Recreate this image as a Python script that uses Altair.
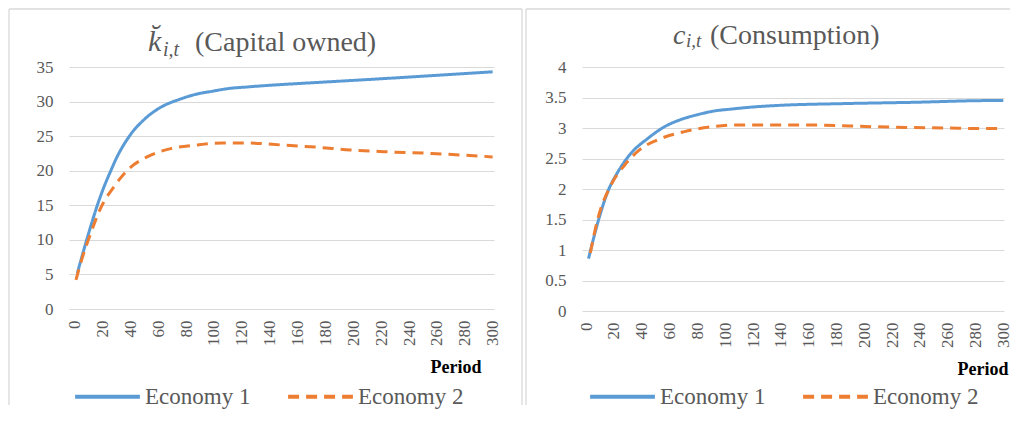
import altair as alt
import pandas as pd

SERIES = ["Economy 1", "Economy 2"]
COLORS = ["#5B9BD5", "#ED7D31"]
DASHES = [[1, 0], [11, 7]]

# Capital owned
cap_t1 = [2, 9, 17, 21, 26, 30, 39, 51, 63, 75, 87, 99, 111, 123, 136, 160, 186, 220, 260, 300]
cap_v1 = [5.2, 10.2, 15.4, 17.6, 20.0, 21.8, 24.9, 27.6, 29.3, 30.3, 31.05, 31.5, 31.9, 32.1, 32.3, 32.6, 32.9, 33.3, 33.8, 34.3]
cap_t2 = [1, 5.5, 11.5, 18.7, 28, 38, 52, 69, 87, 106, 125, 150, 174, 198, 222, 256, 292, 300]
cap_v2 = [4.2, 7.4, 10.9, 14.6, 17.6, 20.1, 22.0, 23.2, 23.7, 24.0, 24.0, 23.7, 23.4, 23.0, 22.75, 22.5, 22.1, 22.0]

# Consumption
con_t1 = [1.7, 8, 15.6, 22.8, 32.4, 44.4, 56.3, 68.3, 80.4, 92.3, 104.3, 117.5, 138, 185, 233, 293, 300]
con_v1 = [0.86, 1.42, 1.96, 2.28, 2.59, 2.83, 3.02, 3.14, 3.22, 3.28, 3.31, 3.34, 3.37, 3.40, 3.42, 3.45, 3.45]
con_t2 = [3, 8, 18, 27.6, 38.3, 54, 70.7, 90, 109, 128, 160, 209, 257, 293, 300]
con_v2 = [0.95, 1.48, 2.07, 2.39, 2.64, 2.83, 2.94, 3.02, 3.05, 3.05, 3.05, 3.02, 3.0, 2.99, 2.99]

x_ticks = list(range(0, 301, 20))
cap_ticks = [0, 5, 10, 15, 20, 25, 30, 35]
con_ticks = [0, 0.5, 1, 1.5, 2, 2.5, 3, 3.5, 4]

FONT = "Liberation Serif"
GRAY = "#595959"
GRID = "#d9d9d9"


def long_df(t1, v1, t2, v2):
    rows = [{"period": t, "value": v, "series": SERIES[0]} for t, v in zip(t1, v1)]
    rows += [{"period": t, "value": v, "series": SERIES[1]} for t, v in zip(t2, v2)]
    return pd.DataFrame(rows)


one = pd.DataFrame({"k": [0]})


def panel(df, xdom, ydom, yticks, width, height, title_parts, border, legend_x, period_x):
    legend = alt.Legend(
        orient="none", legendX=legend_x, legendY=295, direction="horizontal",
        title=None, symbolType="stroke", symbolSize=4200, symbolStrokeWidth=4,
        labelFont=FONT, labelFontSize=23, labelColor=GRAY, labelOffset=3,
        columnPadding=29, padding=0,
    )
    lines = alt.Chart(df).mark_line(strokeWidth=3, interpolate="monotone").encode(
        x=alt.X("period:Q",
                scale=alt.Scale(domain=xdom, nice=False, zero=False),
                axis=alt.Axis(values=x_ticks, format="d", labelAngle=-90, labelPadding=11,
                              labelFont=FONT, labelFontSize=17, labelColor=GRAY,
                              grid=False, ticks=False, domain=False,
                              title="Period", titleFont=FONT, titleFontSize=18,
                              titleFontWeight="bold", titleColor="black",
                              titleAlign="right", titleBaseline="alphabetic",
                              titleAngle=0, titleX=period_x, titleY=63)),
        y=alt.Y("value:Q",
                scale=alt.Scale(domain=ydom, nice=False),
                axis=alt.Axis(values=yticks, format="~g", labelPadding=16,
                              labelFont=FONT, labelFontSize=17, labelColor=GRAY,
                              grid=True, gridColor=GRID, gridWidth=1,
                              ticks=False, domain=False, title=None)),
        color=alt.Color("series:N", scale=alt.Scale(domain=SERIES, range=COLORS), legend=legend),
        strokeDash=alt.StrokeDash("series:N", scale=alt.Scale(domain=SERIES, range=DASHES), legend=legend),
    ).properties(width=width, height=height)

    layers = []
    for (bx, by, bx2, by2) in border:
        enc = {"x": alt.value(bx), "y": alt.value(by)}
        if bx2 is not None:
            enc["x2"] = alt.value(bx2)
        if by2 is not None:
            enc["y2"] = alt.value(by2)
        layers.append(alt.Chart(one).mark_rule(color=GRID, strokeWidth=1.3).encode(**enc))

    for (txt, tx, ty, size, style) in title_parts:
        layers.append(
            alt.Chart(one).mark_text(
                font=FONT, fontSize=size, fontStyle=style, color=GRAY,
                align="left", baseline="alphabetic",
            ).encode(x=alt.value(tx), y=alt.value(ty), text=alt.value(txt))
        )
    return alt.layer(lines, *layers)


left = panel(
    long_df(cap_t1, cap_v1, cap_t2, cap_v2),
    [-4, 301], [0, 35], cap_ticks, 425, 242,
    [("k\u0306", 79, -16, 30, "italic"),
     ("i,t", 94, -11, 20, "italic"),
     ("(Capital owned)", 126, -16, 28, "normal")],
    [(-60, -58, 453, None), (-60, -58, None, 338), (453, -58, None, 338)],
    4, 412,
)

right = panel(
    long_df(con_t1, con_v1, con_t2, con_v2),
    [-3, 300.5], [0, 4], con_ticks, 422, 244,
    [("c", 91, -23, 28, "italic"),
     ("i,t", 104, -20, 19, "italic"),
     ("(Consumption)", 128, -23, 28, "normal")],
    [(-56, -58, 428, None), (-56, -58, None, 338)],
    6, 426,
)

chart = alt.hconcat(left, right, spacing=2).resolve_scale(
    color="independent", strokeDash="independent"
).properties(
    padding=0, background="white"
).configure_view(stroke=None)

chart.save("out.html", embed_options={"renderer": "svg", "actions": False})
